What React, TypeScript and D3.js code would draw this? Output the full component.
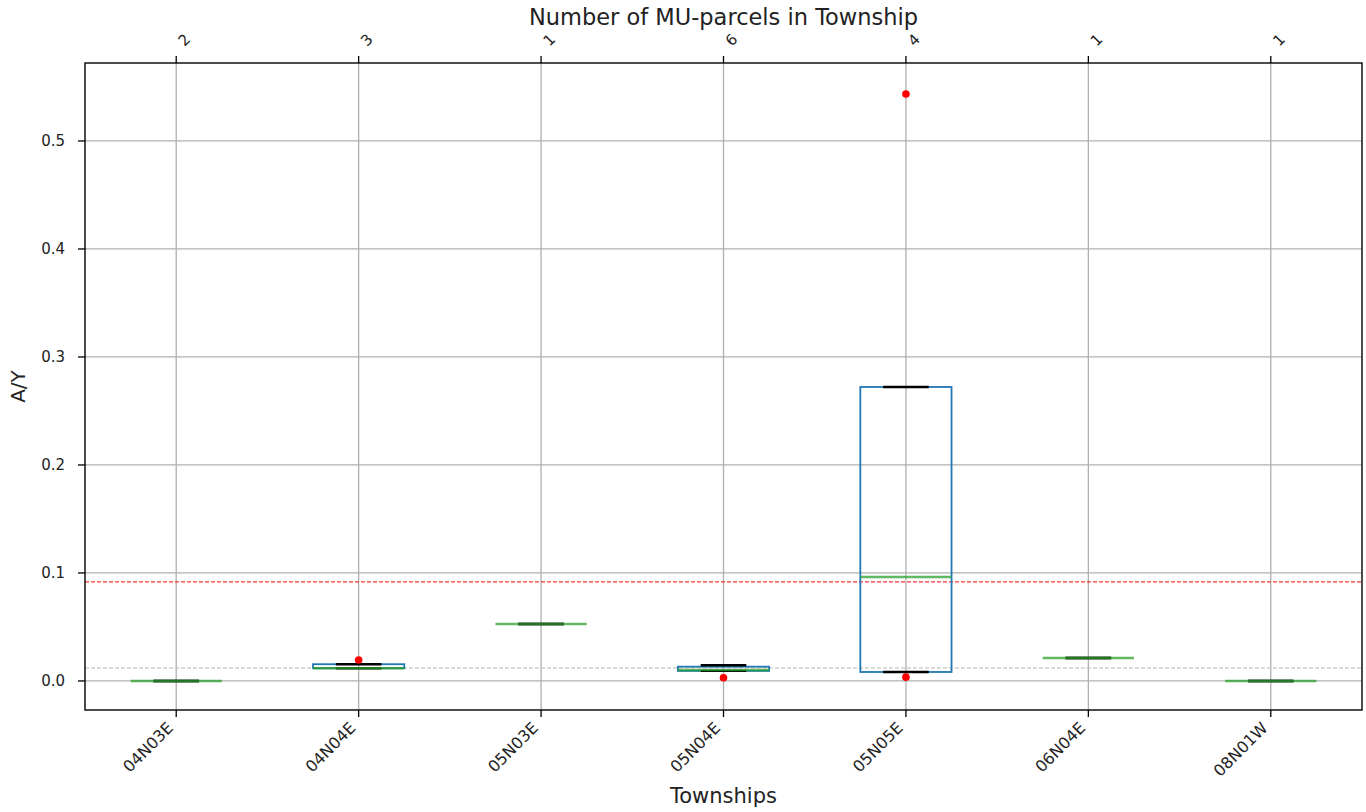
import React from "react";
import * as d3 from "d3";

const townships = ["04N03E", "04N04E", "05N03E", "05N04E", "05N05E", "06N04E", "08N01W"];
const parcelCounts = [2, 3, 1, 6, 4, 1, 1];
const q1 = [0, 0.0118, 0.0528, 0.0093, 0.0083, 0.0213, 0];
const medians = [0, 0.0118, 0.0528, 0.0102, 0.0963, 0.0213, 0];
const q3 = [0, 0.0155, 0.0528, 0.0132, 0.2722, 0.0213, 0];
const whiskerLow = [0, 0.0118, 0.0528, 0.0093, 0.0083, 0.0213, 0];
const whiskerHigh = [0, 0.0155, 0.0528, 0.0145, 0.2722, 0.0213, 0];
const outlierIndex = [1, 3, 4, 4];
const outlierValue = [0.0194, 0.003, 0.5435, 0.0035];
const yTicks = [0.0, 0.1, 0.2, 0.3, 0.4, 0.5];
const meanLine = 0.0917;
const baseLine = 0.012;

const W = 1366;
const H = 812;
const L = 85, R = 1362, T = 63, B = 710;
const font = "DejaVu Sans, sans-serif";

export default function App() {
  const x = d3.scaleLinear().domain([0.5, townships.length + 0.5]).range([L, R]);
  const y = d3.scaleLinear().domain([-0.0269, 0.5722]).range([B, T]);
  const bw = x(1.5) - x(1);
  const cw = bw / 2;
  const blue = "#1f77b4";
  const green = "#2ca02c";
  return (
    <svg width={W} height={H} style={{ position: "absolute", left: 0, top: 0, background: "#fff" }} fontFamily={font}>
      {/* grid */}
      {townships.map((t, i) => (
        <line key={"gx" + i} x1={x(i + 1)} x2={x(i + 1)} y1={T} y2={B} stroke="#b0b0b0" strokeWidth={1.3} />
      ))}
      {yTicks.map((v) => (
        <line key={"gy" + v} x1={L} x2={R} y1={y(v)} y2={y(v)} stroke="#b0b0b0" strokeWidth={1.3} />
      ))}
      {/* reference lines */}
      <line x1={L} x2={R} y1={y(meanLine)} y2={y(meanLine)} stroke="#ff0000" strokeWidth={1} strokeDasharray="4,2" />
      <line x1={L} x2={R} y1={y(baseLine)} y2={y(baseLine)} stroke="#b8b8b8" strokeWidth={1} strokeDasharray="4,2" />
      {/* boxes */}
      {townships.map((t, i) => {
        const cx = x(i + 1);
        return (
          <g key={"b" + i}>
            <line x1={cx} x2={cx} y1={y(q3[i])} y2={y(whiskerHigh[i])} stroke={blue} strokeWidth={1.8} />
            <line x1={cx} x2={cx} y1={y(q1[i])} y2={y(whiskerLow[i])} stroke={blue} strokeWidth={1.8} />
            <rect x={cx - bw / 2} y={y(q3[i])} width={bw} height={Math.max(0, y(q1[i]) - y(q3[i]))} fill="none" stroke={blue} strokeWidth={1.8} />
            <line x1={cx - cw / 2} x2={cx + cw / 2} y1={y(whiskerHigh[i])} y2={y(whiskerHigh[i])} stroke="#000" strokeWidth={2.4} />
            <line x1={cx - cw / 2} x2={cx + cw / 2} y1={y(whiskerLow[i])} y2={y(whiskerLow[i])} stroke="#000" strokeWidth={2.4} />
            <line x1={cx - bw / 2} x2={cx + bw / 2} y1={y(medians[i])} y2={y(medians[i])} stroke={green} strokeWidth={2.4} strokeOpacity={0.75} />
          </g>
        );
      })}
      {outlierValue.map((v, k) => (
        <circle key={"o" + k} cx={x(outlierIndex[k] + 1)} cy={y(v)} r={3.8} fill="#ff0000" />
      ))}
      {/* frame */}
      <rect x={L} y={T} width={R - L} height={B - T} fill="none" stroke="#000" strokeWidth={1.4} />
      {/* y axis */}
      {yTicks.map((v) => (
        <g key={"yt" + v}>
          <line x1={L - 7} x2={L} y1={y(v)} y2={y(v)} stroke="#000" strokeWidth={1.3} />
          <text x={L - 20} y={y(v)} dy="0.35em" textAnchor="end" fontSize={15} fill="#222">
            {d3.format(".1f")(v)}
          </text>
        </g>
      ))}
      <text transform={`translate(25,${(T + B) / 2}) rotate(-90)`} textAnchor="middle" fontSize={20} fill="#222">
        A/Y
      </text>
      {/* bottom axis */}
      {townships.map((t, i) => (
        <g key={"xt" + i}>
          <line x1={x(i + 1)} x2={x(i + 1)} y1={B} y2={B + 7} stroke="#000" strokeWidth={1.3} />
          <text transform={`translate(${x(i + 1) - 6},${B + 15}) rotate(-45)`} textAnchor="end" dy="0.35em" fontSize={16} fill="#222">
            {t}
          </text>
        </g>
      ))}
      <text x={(L + R) / 2} y={803} textAnchor="middle" fontSize={21} fill="#222">
        Townships
      </text>
      {/* top axis */}
      {parcelCounts.map((c, i) => (
        <g key={"tt" + i}>
          <line x1={x(i + 1)} x2={x(i + 1)} y1={T - 7} y2={T} stroke="#000" strokeWidth={1.3} />
          <text transform={`translate(${x(i + 1) + 8},${T - 23}) rotate(-45)`} textAnchor="middle" dy="0.35em" fontSize={15} fill="#222">
            {c}
          </text>
        </g>
      ))}
      <text x={(L + R) / 2} y={25} textAnchor="middle" fontSize={22.5} fill="#222">
        Number of MU-parcels in Township
      </text>
    </svg>
  );
}
